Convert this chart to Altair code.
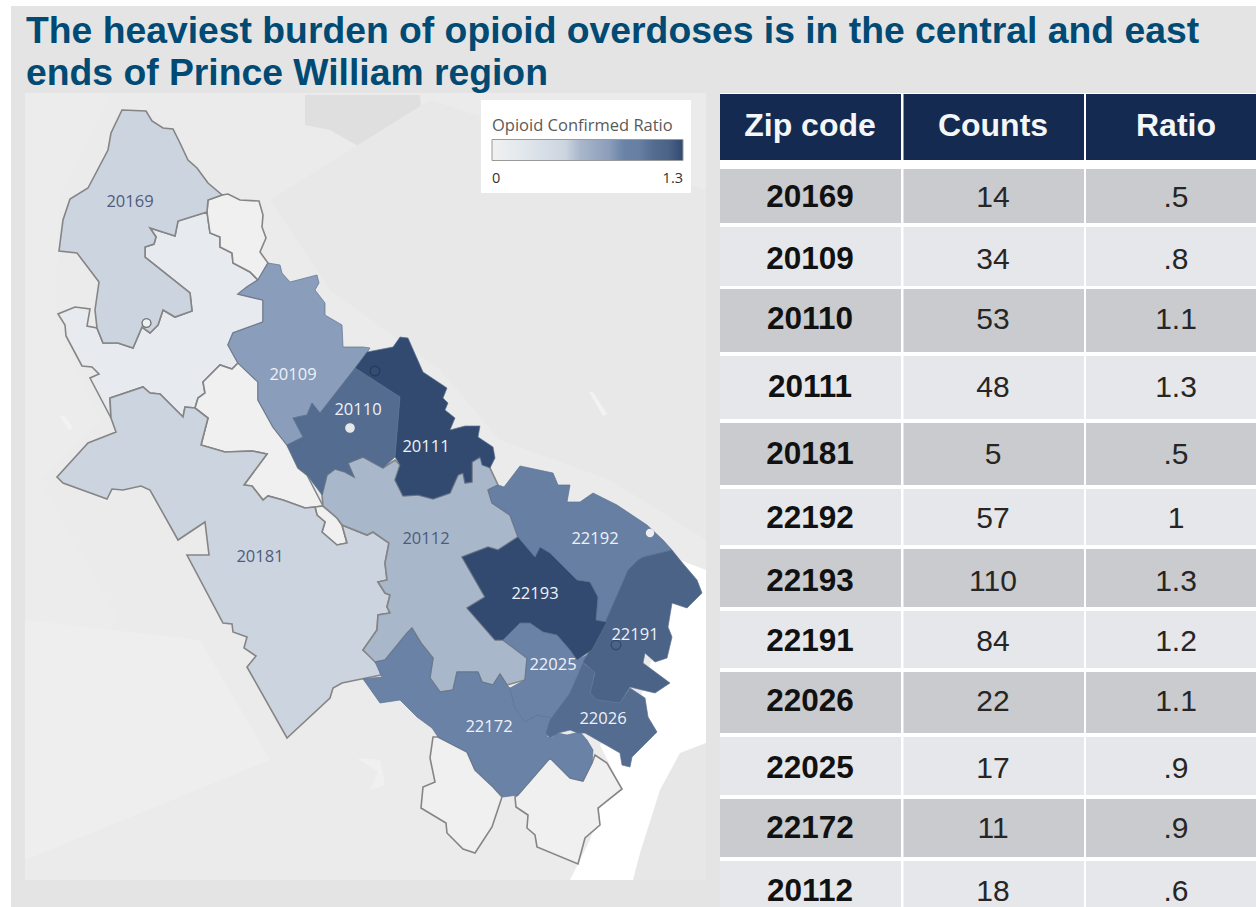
import altair as alt
import pandas as pd

# Table contents
zips = ["20169", "20109", "20110", "20111", "20181", "22192",
        "22193", "22191", "22026", "22025", "22172", "20112"]
counts = [14, 34, 53, 48, 5, 57, 110, 84, 22, 17, 11, 18]
ratios = [0.5, 0.8, 1.1, 1.3, 0.5, 1.0, 1.3, 1.2, 1.1, 0.9, 0.9, 0.6]
ratio_text = [".5", ".8", "1.1", "1.3", ".5", "1", "1.3", "1.2", "1.1", ".9", ".9", ".6"]
headers = ["Zip code", "Counts", "Ratio"]
title_lines = ["The heaviest burden of opioid overdoses is in the central and east",
               "ends of Prince William region"]

# Zip code boundaries, in map units
outline = {
    "20169": [(122, 110), (146, 111), (152, 121), (163, 128), (173, 129), (180, 143), (188, 160), (197, 168),
              (208, 183), (222, 195), (208, 200), (207, 212), (178, 221), (175, 236), (150, 228), (156, 237),
              (154, 244), (145, 247), (145, 257), (190, 293), (192, 311), (175, 317), (163, 310), (158, 325),
              (150, 333), (142, 327), (133, 348), (118, 343), (103, 343), (97, 328), (95, 310), (99, 282),
              (77, 253), (59, 251), (63, 220), (70, 199), (88, 188), (108, 150), (111, 133)],
    "20109": [(268, 263), (280, 265), (282, 273), (290, 282), (317, 275), (319, 283), (315, 290), (325, 303),
              (325, 315), (342, 325), (343, 347), (363, 347), (370, 348), (357, 367), (320, 413), (312, 403),
              (307, 415), (293, 418), (303, 437), (287, 445), (273, 427), (258, 400), (258, 382), (238, 363),
              (228, 345), (233, 333), (263, 322), (263, 300), (238, 294), (247, 287), (258, 280)],
    "20110": [(355, 368), (400, 397), (395, 457), (383, 468), (363, 457), (348, 463), (354, 477), (345, 472),
              (335, 469), (327, 475), (322, 495), (307, 475), (298, 468), (287, 445), (303, 437), (293, 418),
              (307, 415), (312, 403), (320, 413)],
    "20111": [(355, 368), (367, 352), (393, 347), (400, 337), (408, 338), (423, 372), (447, 388), (443, 398),
              (448, 403), (445, 410), (455, 418), (450, 430), (465, 426), (480, 426), (478, 437), (493, 447),
              (495, 458), (490, 468), (482, 465), (480, 457), (472, 462), (472, 482), (465, 483), (463, 473),
              (458, 475), (450, 493), (433, 499), (418, 495), (403, 496), (395, 480), (400, 465), (395, 457),
              (400, 397)],
    "20112": [(383, 468), (395, 460), (400, 465), (395, 480), (403, 496), (418, 495), (433, 499), (450, 493),
              (458, 475), (463, 473), (465, 483), (472, 482), (472, 462), (480, 457), (490, 468), (498, 485),
              (488, 490), (492, 503), (510, 515), (518, 537), (498, 550), (488, 547), (462, 557), (485, 597),
              (467, 608), (495, 640), (503, 640), (527, 658), (525, 680), (507, 685), (500, 674), (493, 685),
              (482, 682), (478, 672), (457, 672), (453, 690), (440, 692), (430, 678), (433, 658), (421, 643),
              (412, 628), (407, 633), (385, 660), (375, 662), (363, 650), (377, 630), (378, 615), (390, 613),
              (387, 607), (390, 595), (385, 593), (378, 582), (387, 580), (385, 563), (389, 543), (373, 532),
              (367, 535), (342, 525), (337, 518), (323, 506), (322, 495), (327, 475), (335, 469), (345, 472),
              (354, 477), (348, 463), (363, 457)],
    "20181": [(110, 398), (143, 387), (150, 393), (160, 394), (183, 417), (185, 407), (195, 408), (208, 418),
              (201, 445), (225, 452), (252, 451), (267, 454), (244, 485), (252, 486), (263, 500), (268, 496),
              (283, 500), (305, 508), (315, 507), (317, 515), (325, 522), (322, 532), (337, 545), (347, 543),
              (342, 525), (367, 535), (373, 532), (389, 543), (385, 563), (387, 580), (378, 582), (385, 593),
              (390, 595), (387, 607), (390, 613), (378, 615), (377, 630), (363, 650), (377, 662), (381, 675),
              (342, 683), (333, 688), (330, 698), (287, 738), (247, 667), (256, 656), (244, 648), (247, 637),
              (233, 632), (232, 624), (223, 623), (187, 555), (209, 555), (205, 522), (178, 540), (150, 490),
              (141, 486), (123, 490), (112, 489), (107, 499), (63, 483), (57, 477), (88, 443), (116, 432),
              (111, 418)],
    "22192": [(488, 490), (498, 485), (504, 487), (520, 466), (553, 473), (558, 485), (570, 485), (567, 502),
              (580, 502), (593, 493), (617, 505), (647, 525), (663, 540), (672, 550), (643, 557), (632, 567),
              (620, 593), (608, 623), (596, 620), (598, 597), (590, 582), (577, 580), (550, 553), (540, 547),
              (535, 557), (518, 537), (510, 515), (492, 503)],
    "22193": [(462, 557), (488, 547), (498, 550), (518, 537), (535, 557), (540, 547), (550, 553), (577, 580),
              (590, 582), (598, 597), (596, 620), (607, 622), (592, 650), (577, 660), (570, 650), (557, 635),
              (543, 632), (530, 623), (520, 623), (503, 640), (495, 640), (467, 608), (485, 597)],
    "22025": [(503, 640), (520, 623), (530, 623), (543, 632), (557, 635), (570, 650), (577, 660), (587, 655),
              (580, 680), (563, 707), (552, 718), (537, 715), (525, 722), (515, 708), (510, 688), (525, 680),
              (527, 658)],
    "22172": [(363, 679), (382, 677), (375, 662), (385, 660), (407, 633), (412, 628), (421, 643), (433, 658),
              (430, 678), (440, 692), (453, 690), (457, 672), (478, 672), (482, 682), (493, 685), (500, 674),
              (507, 685), (510, 688), (515, 708), (525, 722), (537, 715), (552, 718), (547, 737), (552, 738),
              (557, 733), (567, 735), (580, 732), (587, 740), (593, 750), (592, 763), (583, 781), (570, 778),
              (550, 758), (518, 795), (503, 797), (493, 787), (475, 770), (467, 752), (438, 737), (432, 728),
              (417, 717), (400, 700), (380, 703)],
    "22191": [(672, 550), (680, 560), (697, 580), (702, 593), (687, 608), (672, 603), (668, 627), (672, 637),
              (667, 658), (655, 662), (645, 653), (643, 663), (670, 683), (655, 693), (630, 687), (620, 703),
              (597, 700), (590, 693), (595, 673), (583, 662), (603, 627), (618, 593), (628, 570), (638, 560),
              (643, 557)],
    "22026": [(583, 663), (595, 672), (590, 693), (597, 700), (620, 703), (630, 688), (645, 698), (648, 717),
              (657, 732), (632, 757), (630, 767), (622, 765), (620, 753), (585, 733), (578, 733), (570, 730),
              (558, 733), (550, 738), (546, 733), (550, 720), (570, 693)],
}

# Neighbouring areas that carry no table row: (fill ratio, boundary)
extra_areas = [
    (0.15, [(207, 212), (210, 233), (220, 237), (220, 247), (232, 253), (233, 263), (250, 272), (258, 280),
            (247, 287), (238, 294), (263, 300), (263, 322), (233, 333), (228, 345), (238, 363), (232, 369),
            (220, 365), (203, 382), (205, 393), (198, 398), (195, 408), (185, 407), (183, 417), (160, 394),
            (150, 393), (143, 387), (110, 398), (111, 418), (90, 378), (99, 374), (92, 367), (82, 366),
            (66, 336), (65, 325), (58, 314), (75, 307), (90, 309), (87, 326), (97, 328), (103, 343),
            (118, 343), (133, 348), (142, 327), (150, 333), (158, 325), (163, 310), (175, 317), (192, 311),
            (190, 293), (145, 257), (145, 247), (154, 244), (156, 237), (150, 228), (175, 236), (178, 221)]),
    (0.0, [(222, 195), (228, 194), (240, 200), (259, 201), (263, 215), (262, 227), (266, 238), (260, 252),
           (268, 263), (258, 280), (250, 272), (233, 263), (232, 253), (220, 247), (220, 237), (210, 233),
           (207, 212), (208, 200)]),
    (0.0, [(203, 382), (220, 365), (232, 369), (238, 363), (258, 382), (258, 400), (273, 427), (287, 445),
           (298, 468), (307, 475), (323, 506), (315, 507), (305, 508), (283, 500), (268, 496), (263, 500),
           (252, 486), (244, 485), (267, 454), (252, 451), (225, 452), (201, 445), (208, 418), (195, 408),
           (198, 398), (205, 393)]),
    (0.0, [(323, 506), (337, 518), (342, 525), (347, 543), (337, 545), (322, 532), (325, 522), (317, 515),
           (315, 507)]),
    (0.0, [(433, 737), (438, 737), (467, 752), (475, 770), (493, 787), (502, 797), (492, 827), (475, 853),
           (463, 849), (447, 833), (446, 823), (421, 808), (423, 787), (435, 782), (430, 758)]),
    (0.0, [(550, 758), (570, 778), (583, 781), (592, 763), (595, 755), (607, 763), (622, 789), (598, 808),
           (600, 825), (585, 838), (578, 864), (537, 847), (535, 835), (527, 828), (528, 815), (516, 807),
           (515, 797), (518, 795)]),
]

# Base map shading under the boundaries: (grey, shape)
base_map = [
    ("#ffffff", [(680, 560), (706, 570), (706, 880), (570, 880), (590, 840), (600, 808), (620, 785), (600, 745), (640, 700)]),
    ("#e7e7e7", [(706, 743), (680, 753), (660, 790), (640, 853), (633, 880), (706, 880)]),
    ("#dfdfdf", [(305, 95), (420, 95), (424, 150), (370, 153), (330, 130), (305, 125)]),
    ("#e8e8e8", [(430, 100), (706, 190), (706, 540), (610, 480), (500, 440), (440, 370), (330, 290), (270, 200)]),
    ("#ececec", [(25, 93), (110, 93), (60, 200), (55, 320), (100, 420), (40, 480), (120, 620), (25, 700)]),
    ("#eeeeee", [(25, 620), (200, 640), (270, 760), (25, 860)]),
    ("#f2f2f2", [(589, 392), (593, 392), (607, 414), (603, 416)]),
    ("#f2f2f2", [(60, 417), (64, 415), (73, 428), (69, 430)]),
    ("#f0f0f0", [(357, 758), (380, 760), (385, 785), (370, 790), (378, 772)]),
]

# City markers and the small enclave on the river: lon, lat, fill, ring, size
markers = [
    (146.5, 323, "#eef1f4", "#6f6f6f", 80),
    (350, 428, "#e6e8ea", "#e6e8ea", 70),
    (375, 371, "#344d71", "#253a5c", 90),
    (616, 645, "#4a6387", "#34496b", 90),
    (650, 533, "#eeeeee", "#eeeeee", 50),
]

# Map labels
label_pos = {
    "20169": (130, 202), "20109": (293, 375), "20110": (358, 410), "20111": (426, 447),
    "20112": (426, 539), "20181": (260, 557), "22192": (595, 539), "22193": (535, 594),
    "22191": (635, 635), "22025": (553, 665), "22026": (603, 719), "22172": (489, 727),
}
ratio_of = dict(zip(zips, ratios))


def feature(points, ratio):
    return {
        "type": "Feature",
        "properties": {"ratio": ratio},
        "geometry": {"type": "Polygon", "coordinates": [[list(p) for p in points] + [list(points[0])]]},
    }


WIDTH, HEIGHT = 1256, 907
X = alt.X("x:Q", scale=alt.Scale(domain=[0, WIDTH], nice=False, zero=False), axis=None)
X2 = alt.X2("x2:Q")
Y = alt.Y("y:Q", scale=alt.Scale(domain=[HEIGHT, 0], nice=False, zero=False), axis=None)
Y2 = alt.Y2("y2:Q")
MAP_PROJECTION = dict(type="identity", scale=1, translate=[0, 0])

color_scale = alt.Scale(
    domain=[0, 0.15, 0.5, 0.6, 0.8, 0.9, 1.0, 1.1, 1.2, 1.3],
    range=["#f0f0f0", "#e7ebef", "#ccd4df", "#a9b7cb", "#8a9dba", "#6a82a5",
           "#667fa3", "#536c90", "#4a6387", "#324a6f"],
)
ratio_color = alt.Color(
    "properties.ratio:Q",
    scale=color_scale,
    legend=alt.Legend(
        orient="none", legendX=492, legendY=118, direction="horizontal",
        title="Opioid Confirmed Ratio", titleFont="Open Sans", titleFontSize=16.5,
        titleFontWeight="normal", titleColor="#5a5a5a", titleLimit=230, titlePadding=5,
        labelFont="Open Sans", labelFontSize=14.5, labelColor="#333333", labelOffset=11,
        gradientLength=191, gradientThickness=21, gradientStrokeColor="#9a9a9a",
        gradientStrokeWidth=1, values=[0, 1.3],
        labelExpr="datum.value === 0 ? '0' : format(datum.value, '.1f')",
        padding=0,
    ),
)


def rects(frame, fill):
    return alt.Chart(frame).mark_rect(fill=fill).encode(x=X, x2=X2, y=Y, y2=Y2)


def box(x, x2, y, y2):
    return pd.DataFrame({"x": [x], "x2": [x2], "y": [y], "y2": [y2]})


# Slide background and map panel
panel_layers = [
    rects(box(11, WIDTH, 6, HEIGHT), "#e4e4e4"),
    rects(box(25, 706, 93, 880), "#ebebeb"),
    rects(box(720, WIDTH, 93, HEIGHT), "#ffffff"),
]

base_layers = [
    alt.Chart(alt.Data(values=[feature(shape, 0)])).mark_geoshape(fill=grey, strokeWidth=0)
    .project(**MAP_PROJECTION)
    for grey, shape in base_map
]

# White card behind the legend
legend_card = rects(box(481, 691, 100, 193), "#ffffff")

light_regions = [feature(pts, r) for r, pts in extra_areas] + [
    feature(outline[z], ratio_of[z]) for z in ["20181", "20169", "20112"]
]
dark_regions = [feature(outline[z], ratio_of[z]) for z in
                ["20109", "22192", "22172", "22025", "22191", "22026", "20110", "22193", "20111"]]

light_layer = alt.Chart(alt.Data(values=light_regions)).mark_geoshape(
    stroke="#858585", strokeWidth=1.6
).encode(color=ratio_color).project(**MAP_PROJECTION)
dark_layer = alt.Chart(alt.Data(values=dark_regions)).mark_geoshape(
    stroke="#5d7290", strokeWidth=0.7
).encode(color=ratio_color).project(**MAP_PROJECTION)

marker_layers = [
    alt.Chart(pd.DataFrame({"lon": [lon], "lat": [lat]})).mark_point(
        filled=True, opacity=1, fill=fill, stroke=ring, strokeWidth=1.3, size=size
    ).encode(longitude="lon:Q", latitude="lat:Q").project(**MAP_PROJECTION)
    for lon, lat, fill, ring, size in markers
]


def map_label_layer(selected, ink):
    frame = pd.DataFrame({
        "zip": selected,
        "lon": [label_pos[z][0] for z in selected],
        "lat": [label_pos[z][1] for z in selected],
    })
    return alt.Chart(frame).mark_text(font="Open Sans", fontSize=16.5, baseline="middle", color=ink).encode(
        longitude="lon:Q", latitude="lat:Q", text="zip:N"
    ).project(**MAP_PROJECTION)


label_layers = [
    map_label_layer([z for z in label_pos if ratio_of[z] < 0.7], "#4c5c7c"),
    map_label_layer([z for z in label_pos if ratio_of[z] >= 0.7], "#eef2f8"),
]

# Table geometry
col_left = [720, 903.5, 1086]
col_right = [901, 1084, WIDTH]
col_mid = [810, 993, 1176]
row_edges = [(169, 223), (227, 286), (289, 352), (356, 419), (423, 485), (489, 545),
             (549, 607), (611, 668), (672, 733), (737, 795), (799, 857), (861, 919)]
row_text_y = [198, 260, 320, 388, 455, 519, 582, 642, 702, 769, 829, 892]


def cell_frame(spans):
    return pd.DataFrame([
        {"x": col_left[c], "x2": col_right[c], "y": top, "y2": min(bottom, HEIGHT)}
        for top, bottom in spans for c in range(3)
    ])


cell_layers = [
    rects(cell_frame(row_edges[0::2]), "#c9cbcf"),
    rects(cell_frame(row_edges[1::2]), "#e6e7ea"),
    rects(cell_frame([(94, 160)]), "#142a50"),
]

zip_frame = pd.DataFrame({"x": col_mid[0], "y": row_text_y, "t": zips})
value_frame = pd.DataFrame({
    "x": [col_mid[1]] * len(zips) + [col_mid[2]] * len(zips),
    "y": row_text_y * 2,
    "t": [str(c) for c in counts] + ratio_text,
})
zip_text = alt.Chart(zip_frame).mark_text(
    font="Liberation Sans", fontWeight="bold", fontSize=31.5, color="#111111", baseline="middle"
).encode(x=X, y=Y, text="t:N")
value_text = alt.Chart(value_frame).mark_text(
    font="Liberation Sans", fontSize=30, color="#262626", baseline="middle"
).encode(x=X, y=Y, text="t:N")
header_text = alt.Chart(pd.DataFrame({"x": col_mid, "y": [126] * 3, "t": headers})).mark_text(
    font="Liberation Sans", fontWeight="bold", fontSize=32, color="#f4f6f8", baseline="middle"
).encode(x=X, y=Y, text="t:N")

title_layer = alt.Chart(pd.DataFrame({"x": [26, 26], "y": [43, 85], "t": title_lines})).mark_text(
    font="Liberation Sans", fontWeight="bold", fontSize=37.3, color="#004a73", align="left", baseline="alphabetic"
).encode(x=X, y=Y, text="t:N")

chart = alt.layer(
    *panel_layers, *base_layers, legend_card, light_layer, dark_layer, *marker_layers, *label_layers,
    *cell_layers, zip_text, value_text, header_text, title_layer,
).properties(
    width=WIDTH, height=HEIGHT, padding=0, background="white",
    autosize=alt.AutoSizeParams(type="none"),
).configure_view(stroke=None)

chart.save("out.html", embed_options={"renderer": "svg", "actions": False})
